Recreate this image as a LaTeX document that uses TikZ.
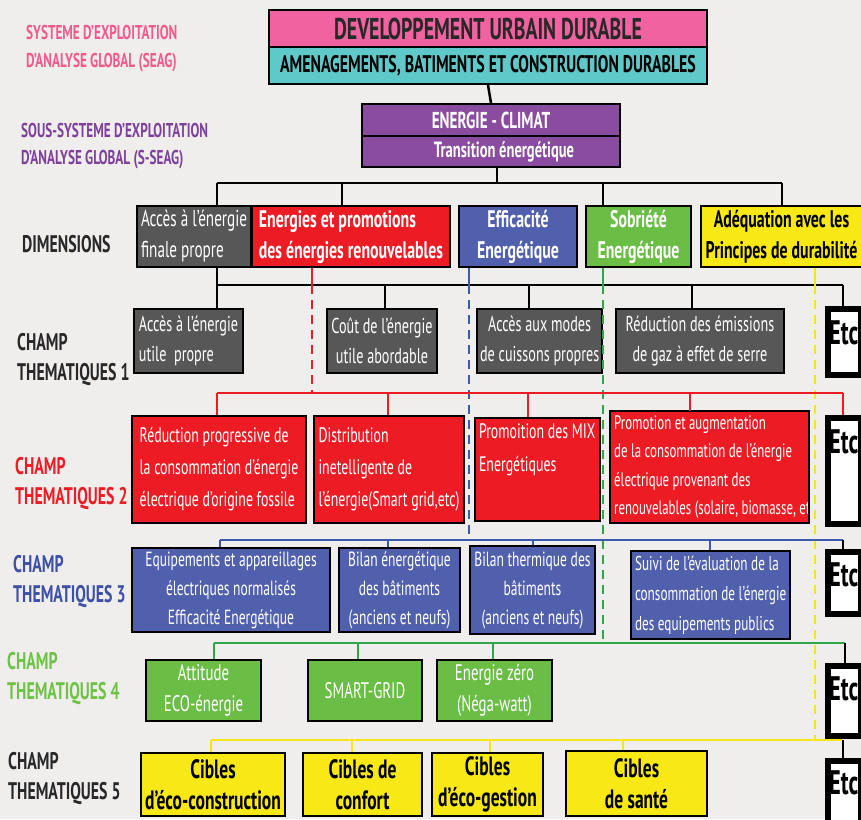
\documentclass[tikz,border=0pt]{standalone}
\usepackage{fontspec}
\setmainfont{PT Sans}[FakeStretch=0.66]
\usetikzlibrary{calc}
\definecolor{bgc}{RGB}{240,237,237}
\definecolor{pinkbox}{RGB}{240,98,160}
\definecolor{cyanbox}{RGB}{95,200,200}
\definecolor{purplebox}{RGB}{138,76,158}
\definecolor{graybox}{RGB}{87,87,87}
\definecolor{redbox}{RGB}{237,28,36}
\definecolor{bluebox}{RGB}{80,96,172}
\definecolor{greenbox}{RGB}{106,189,69}
\definecolor{yellowbox}{RGB}{248,232,22}
\definecolor{pinktxt}{RGB}{240,90,140}
\definecolor{purpletxt}{RGB}{125,65,155}
\definecolor{darktxt}{RGB}{40,40,40}
\definecolor{bluetxt}{RGB}{60,80,165}
\definecolor{greentxt}{RGB}{110,195,70}
\definecolor{blueline}{RGB}{60,90,170}
\definecolor{greenline}{RGB}{50,165,75}
\definecolor{yellowline}{RGB}{245,230,20}
\newcommand{\myfs}[2]{\fontsize{#1}{#2}\selectfont}
\begin{document}
\begin{tikzpicture}[x=1pt,y=-1pt,
  box/.style={draw=black, line width=2pt, anchor=north west, inner sep=3pt, align=center},
  lbox/.style={box, align=left, inner sep=4pt},
  lab/.style={anchor=north west, inner sep=0pt, align=left, font=\myfs{24}{30}\bfseries},
  etcbox/.style={draw=black, line width=6pt, fill=white, anchor=north west, minimum width=33, inner sep=0pt},
  etctxt/.style={anchor=north west, inner sep=0pt, font=\myfs{34}{36}\bfseries},
  blk/.style={draw=black, line width=2.5pt},
  redl/.style={draw=redbox, line width=2.5pt},
  bluel/.style={draw=blueline, line width=2.5pt},
  greenl/.style={draw=greenline, line width=2.5pt},
  yell/.style={draw=yellowline, line width=2.5pt},
  dsh/.style={line width=2pt, dash pattern=on 9pt off 6pt},
  body/.style={font=\myfs{21.5}{30}},
  bbody/.style={font=\myfs{24}{31}\bfseries}
]
\useasboundingbox (0,0) rectangle (861,819);
\clip (0,0) rectangle (861,819);
\fill[bgc] (0,0) rectangle (861,819);

% left labels
\node[lab, text=pinktxt, font=\myfs{20}{28}\bfseries] (seag) at (26,25) {SYSTEME D’EXPLOITATION\\D’ANALYSE GLOBAL (SEAG)};
\node[lab, text=purpletxt, font=\myfs{20}{27}\bfseries] (sseag) at (21,123) {SOUS-SYSTEME D’EXPLOITATION\\D’ANALYSE GLOBAL (S-SEAG)};
\node[lab, text=darktxt] (dimlab) at (22,235) {DIMENSIONS};
\node[lab, text=darktxt] (ch1) at (17,333) {CHAMP\\THEMATIQUES 1};
\node[lab, text=redbox] (ch2) at (15,457) {CHAMP\\THEMATIQUES 2};
\node[lab, text=bluetxt] (ch3) at (13,555) {CHAMP\\THEMATIQUES 3};
\node[lab, text=greentxt] (ch4) at (7,652) {CHAMP\\THEMATIQUES 4};
\node[lab, text=darktxt] (ch5) at (8,752) {CHAMP\\THEMATIQUES 5};

% top boxes
\node[box, fill=pinkbox, minimum width=438, minimum height=37, font=\myfs{30}{30}\bfseries, text=darktxt] (sd) at (268,9) {DEVELOPPEMENT URBAIN DURABLE};
\node[box, fill=cyanbox, minimum width=438, minimum height=37, font=\myfs{24}{24}\bfseries] (am) at (268,46) {AMENAGEMENTS, BATIMENTS ET CONSTRUCTION DURABLES};
\node[box, fill=purplebox, text=white, minimum width=258, minimum height=32, font=\myfs{23}{23}\bfseries] (ec) at (361,103) {ENERGIE - CLIMAT};
\node[box, fill=purplebox, text=white, minimum width=258, minimum height=31, font=\myfs{22}{22}\bfseries] (te) at (361,135) {\hspace*{26pt}Transition énergétique};
\draw[blk] (am.south) -- (ec.north);

% dimensions
\node[lbox, fill=graybox, text=white, minimum width=108, minimum height=61, font=\myfs{23}{31}] (d1) at (136,205) {Accès à l’énergie\\finale propre};
\node[lbox, fill=redbox, text=white, minimum width=198, minimum height=61, bbody] (d2) at (251,205) {Energies et promotions\\des énergies renouvelables};
\node[box, fill=bluebox, text=white, minimum width=118, minimum height=61, bbody] (d3) at (458,205) {Efficacité\\Energétique};
\node[box, fill=greenbox, text=white, minimum width=105, minimum height=61, bbody] (d4) at (585,205) {Sobriété\\Energétique};
\node[box, fill=yellowbox, text=black, minimum width=161, minimum height=61, bbody] (d5) at (700,205) {Adéquation avec les\\Principes de durabilité};

\coordinate (b0c) at (497,183);
\coordinate (b0l) at (217,183);
\coordinate (b0a) at (342,183);
\coordinate (b0b) at (603,183);
\coordinate (b0r) at (782,183);
\draw[blk] (b0c |- te.south) -- (b0c);
\draw[blk] (b0l) -- (b0r);
\draw[blk] (b0l) -- (b0l |- d1.north);
\draw[blk] (b0a) -- (b0a |- d2.north);
\draw[blk] (b0b) -- (b0b |- d4.north);
\draw[blk] (b0r) -- (b0r |- d5.north);

% champ 1
\coordinate (b1l) at (217,285);
\coordinate (b1a) at (385,285);
\coordinate (b1b) at (529,285);
\coordinate (b1c) at (692,285);
\coordinate (b1r) at (843,285);
\node[lbox, fill=graybox, text=white, minimum width=109, minimum height=64, body] (c11) at (133,308) {Accès à l’énergie\\utile\ \ propre};
\node[box, fill=graybox, text=white, minimum width=110, minimum height=64, body] (c12) at (326,308) {Coût de l’énergie\\utile abordable};
\node[box, fill=graybox, text=white, minimum width=122, minimum height=64, body] (c13) at (476,308) {Accès aux modes\\de cuissons propres};
\node[box, fill=graybox, text=white, minimum width=168, minimum height=64, body] (c14) at (615,308) {Réduction des émissions\\de gaz à effet de serre};
\node[etcbox, minimum height=66] (e1) at (825,306) {};
\node[etctxt] (e1t) at (829,320) {Etc};
\draw[blk] (b1l |- d1.south) -- (b1l);
\draw[blk] (b1l) -- (b1r);
\draw[blk] (b1l) -- (b1l |- c11.north);
\draw[blk] (b1a) -- (b1a |- c12.north);
\draw[blk] (b1b) -- (b1b |- c13.north);
\draw[blk] (b1c) -- (b1c |- c14.north);
\draw[blk] (b1r) -- (b1r |- e1.north);

% dashed verticals from dimensions
\coordinate (rdx) at (312,393);
\coordinate (bdx) at (469,540);
\coordinate (gdx) at (603,643);
\coordinate (ydx) at (815,740);
\draw[draw=redbox, line width=2pt] (rdx |- d2.south) -- (rdx |- b1l);
\draw[draw=redbox, dsh] (rdx |- b1l) -- (rdx);
\draw[draw=blueline, line width=2pt] (bdx |- d3.south) -- (bdx |- b1l);
\draw[draw=blueline, dsh] (bdx |- b1l) -- (bdx);
\draw[draw=greenline, line width=2pt] (gdx |- d4.south) -- (gdx |- b1l);
\draw[draw=greenline, dsh] (gdx |- b1l) -- (gdx);
\draw[draw=yellowline, line width=2pt] (ydx |- d5.south) -- (ydx |- b1l);
\draw[draw=yellowline, dsh] (ydx |- b1l) -- (ydx);

% champ 2
\coordinate (b2l) at (217,393);
\coordinate (b2a) at (388,393);
\coordinate (b2b) at (528,393);
\coordinate (b2c) at (690,393);
\coordinate (b2r) at (843,393);
\node[lbox, fill=redbox, text=white, minimum width=174, minimum height=107, font=\myfs{21}{32}] (r1) at (131,415) {Réduction progressive de\\la consommation d’énergie\\électrique d’origine fossile};
\node[lbox, fill=redbox, text=white, minimum width=150, minimum height=107, font=\myfs{21}{32}] (r2) at (313,415) {Distribution\\inetelligente de\\l’énergie(Smart grid,etc)};
\node[lbox, fill=redbox, text=white, minimum width=123, minimum height=103, font=\myfs{21}{33}] (r3) at (474,417) {Promoition des MIX\\Energétiques\\[10pt]};
\node[draw=none, fill=redbox, anchor=north west, minimum width=199, minimum height=112, inner sep=0pt] (r4) at (610,411) {};
\begin{scope}
\clip (r4.north west) rectangle (r4.south east);
\node[anchor=west, align=left, inner sep=0pt, text=white, font=\myfs{19.5}{28.5}] (r4t) at ([xshift=4pt]r4.west) {Promotion et augmentation\\de la consommation de l’énergie\\électrique provenant des\\renouvelables (solaire, biomasse, etc};
\end{scope}
\draw[black, line width=2pt] (r4.north west) rectangle (r4.south east);
\node[etcbox, minimum height=106] (e2) at (825,415) {};
\node[etctxt] (e2t) at (829,429) {Etc};
\draw[redl] (b2l) -- (b2r);
\draw[redl] (b2l) -- (b2l |- r1.north);
\draw[redl] (b2a) -- (b2a |- r2.north);
\draw[redl] (b2b) -- (b2b |- r3.north);
\draw[redl] (b2c) -- (b2c |- r4.north);
\draw[redl] (b2r) -- (b2r |- e2.north);

% champ 3
\coordinate (b3l) at (220,540);
\coordinate (b3a) at (388,540);
\coordinate (b3b) at (533,540);
\coordinate (b3c) at (710,540);
\coordinate (b3r) at (843,540);
\node[box, fill=bluebox, text=white, minimum width=198, minimum height=84, font=\myfs{20.5}{29}] (bl1) at (131,547) {Equipements et appareillages\\électriques normalisés\\Efficacité Energétique};
\node[box, fill=bluebox, text=white, minimum width=121, minimum height=84, font=\myfs{20.5}{29}] (bl2) at (338,547) {Bilan énergétique\\des bâtiments\\(anciens et neufs)};
\node[box, fill=bluebox, text=white, minimum width=125, minimum height=88, font=\myfs{20.5}{29}] (bl3) at (469,545) {Bilan thermique des\\bâtiments\\(anciens et neufs)};
\node[lbox, fill=bluebox, text=white, minimum width=151, minimum height=88, font=\myfs{20}{30}] (bl4) at (630,550) {Suivi de l’évaluation de la\\consommation de l’énergie\\des equipements publics};
\node[etcbox, minimum height=62] (e3) at (825,549) {};
\node[etctxt] (e3t) at (829,562) {Etc};
\draw[bluel] (b3l) -- (b3r);
\draw[bluel] (b3l) -- (b3l |- bl1.north);
\draw[bluel] (b3a) -- (b3a |- bl2.north);
\draw[bluel] (b3b) -- (b3b |- bl3.north);
\draw[bluel] (b3c) -- (b3c |- bl4.north);
\draw[blk] (b3r) -- (b3r |- e3.north);

% champ 4
\coordinate (b4l) at (214,643);
\coordinate (b4a) at (358,643);
\coordinate (b4b) at (493,643);
\coordinate (b4r) at (845,643);
\node[box, fill=greenbox, text=white, minimum width=115, minimum height=61, font=\myfs{22.5}{31}] (g1) at (145,659) {Attitude\\ECO-énergie};
\node[box, fill=greenbox, text=white, minimum width=114, minimum height=61, font=\myfs{22.5}{31}] (g2) at (307,659) {SMART-GRID};
\node[box, fill=greenbox, text=white, minimum width=115, minimum height=61, font=\myfs{22.5}{31}] (g3) at (436,659) {Energie zéro\\(Néga-watt)};
\node[etcbox, minimum height=70] (e4) at (825,663) {};
\node[etctxt] (e4t) at (829,676) {Etc};
\draw[greenl] (b4l) -- (b4r);
\draw[greenl] (b4l) -- (b4l |- g1.north);
\draw[greenl] (b4a) -- (b4a |- g2.north);
\draw[greenl] (b4b) -- (b4b |- g3.north);
\draw[blk] (b4r) -- (b4r |- e4.north);

% champ 5
\coordinate (b5l) at (211,740);
\coordinate (b5a) at (352,740);
\coordinate (b5b) at (490,740);
\coordinate (b5c) at (623,740);
\coordinate (b5r) at (843,740);
\node[box, fill=yellowbox, text=black, minimum width=144, minimum height=63, font=\myfs{26.5}{31}\bfseries] (y1) at (140,752) {Cibles\\d’éco-construction};
\node[box, fill=yellowbox, text=black, minimum width=119, minimum height=63, font=\myfs{26.5}{31}\bfseries] (y2) at (302,752) {Cibles de\\confort};
\node[box, fill=yellowbox, text=black, minimum width=111, minimum height=63, font=\myfs{26.5}{31}\bfseries] (y3) at (431,752) {Cibles\\d’éco-gestion};
\node[box, fill=yellowbox, text=black, minimum width=141, minimum height=65, font=\myfs{26.5}{31}\bfseries] (y4) at (565,750) {Cibles\\de santé};
\node[etcbox, minimum height=75] (e5) at (825,758) {};
\node[etctxt] (e5t) at (829,770) {Etc};
\draw[yell] (b5l) -- (b5r);
\draw[yell] (b5l) -- (b5l |- y1.north);
\draw[yell] (b5a) -- (b5a |- y2.north);
\draw[yell] (b5b) -- (b5b |- y3.north);
\draw[yell] (b5c) -- (b5c |- y4.north);
\draw[blk] (b5r) -- (b5r |- e5.north);
\end{tikzpicture}
\end{document}
